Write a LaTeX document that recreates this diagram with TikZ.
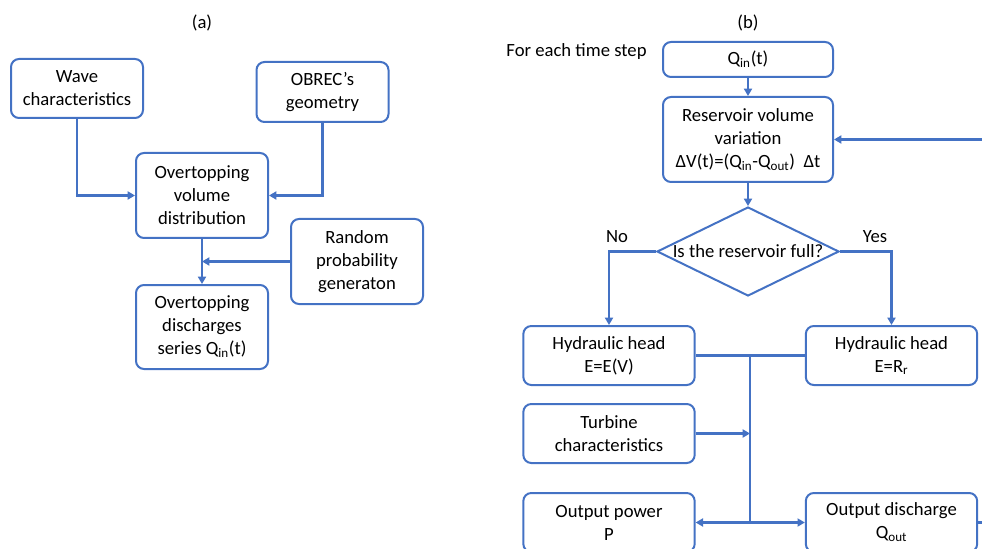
\documentclass[tikz,border=0pt]{standalone}
\usepackage{fontspec}
\setmainfont{Carlito}
\usepackage{tikz}
\usetikzlibrary{positioning, shapes.geometric, arrows.meta}

\definecolor{officeblue}{HTML}{4472C4}

\begin{document}
\begin{tikzpicture}[x=0.75pt,y=-0.75pt,
	box/.style={draw=officeblue,line width=1.5pt,rounded corners=6pt,align=center,
		inner sep=0pt,font=\fontsize{14}{17.25}\selectfont},
	smallbox/.style={box,minimum width=99pt,minimum height=44.25pt},
	tallbox/.style={box,minimum width=99pt,minimum height=63.75pt},
	widebox/.style={box,minimum width=128.5pt,minimum height=44.25pt},
	decision/.style={draw=officeblue,line width=1.5pt,diamond,inner sep=0pt,
		minimum width=136.5pt,minimum height=66.75pt,font=\fontsize{14}{17.25}\selectfont},
	lbl/.style={font=\fontsize{14}{17.25}\selectfont},
	flow/.style={draw=officeblue,line width=2pt},
	arr/.style={flow,-{Triangle[length=5.5pt,width=6pt]}}]
	\useasboundingbox (0,0) rectangle (982,549);
	\clip (0,0) rectangle (982,549);
	% (a)
	\draw node (capa)[lbl] at (202,23) {(a)};
	\draw node (wave)[smallbox] at (77,88.5) {Wave\\characteristics};
	\draw node (obrec)[smallbox,minimum height=45pt] at (322.5,92) {OBREC’s\\geometry};
	\draw node (vol)[tallbox] at (202,195.5) {Overtopping\\volume\\distribution};
	\draw node (rand)[tallbox] at (357,261.5) {Random\\probability\\generaton};
	\draw node (disch)[tallbox,minimum height=63pt] at (202,327) {Overtopping\\discharges\\series Q\textsubscript{in}(t)};
	\draw[arr] (wave.south) |- (vol.west);
	\draw[arr] (obrec.south) |- (vol.east);
	\draw[arr] (vol) -- (disch);
	\draw[arr] (rand.west) -- (vol.south |- rand.west);
	% (b)
	\draw node (capb)[lbl] at (748,23) {(b)};
	\draw node (step)[lbl] at (576.5,52) {For each time step};
	\draw node (qin)[box,minimum width=127.5pt,minimum height=26.25pt] at (748,59.5) {Q\textsubscript{in}(t)};
	\draw node (res)[box,minimum width=127.5pt,minimum height=63.75pt] at (748,139.5)
		{Reservoir volume\\variation\\ΔV(t)=(Q\textsubscript{in}-Q\textsubscript{out})\ \ Δt};
	\draw node (full)[decision] at (748,251.5) {\makebox[0pt]{Is the reservoir full?}};
	\draw node (hhl)[widebox] at (609,355.5) {Hydraulic head\\E=E(V)};
	\draw node (hhr)[widebox] at (891.5,355.5) {Hydraulic head\\E=R\textsubscript{r}};
	\draw node (turb)[widebox] at (609,433.5) {Turbine\\characteristics};
	\draw node (outp)[widebox] at (609,522.5) {Output power\\P};
	\draw node (outq)[widebox] at (891.5,522.5) {Output discharge\\Q\textsubscript{out}};
	\draw node (no)[lbl] at (617,237) {No};
	\draw node (yes)[lbl] at (875,237) {Yes};
	\coordinate (jtop) at (750,355.5);
	\coordinate (jbot) at (750,522.5);
	\coordinate (back) at (994,522.5);
	\draw[arr] (qin) -- (res);
	\draw[arr] (res) -- (full);
	\draw[arr] (full.west) -| (hhl.north);
	\draw[arr] (full.east) -| (hhr.north);
	\draw[flow] (hhl.east) -- (hhr.west);
	\draw[flow] (jtop) -- (jbot);
	\draw[arr] (turb.east) -- (turb.east -| jtop);
	\draw[arr] (jbot) -- (outp.east);
	\draw[arr] (jbot) -- (outq.west);
	\draw[arr] (outq.east) -- (back) |- (res.east);
\end{tikzpicture}
\end{document}
